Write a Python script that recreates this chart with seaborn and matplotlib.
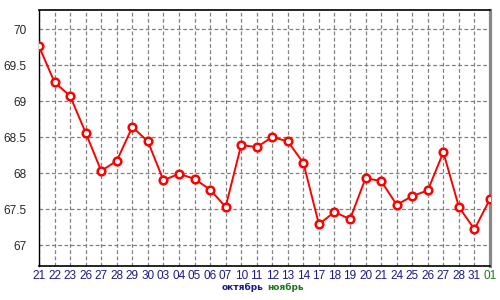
import matplotlib
matplotlib.use('Agg')
import matplotlib.pyplot as plt
import seaborn as sns
import pandas as pd

days = ['21', '22', '23', '26', '27', '28', '29', '30', '03', '04', '05', '06', '07',
        '10', '11', '12', '13', '14', '17', '18', '19', '20', '21', '24', '25', '26',
        '27', '28', '31', '01']
values = [69.76, 69.26, 69.07, 68.56, 68.03, 68.17, 68.64, 68.44, 67.90, 67.99,
          67.92, 67.77, 67.53, 68.39, 68.36, 68.50, 68.44, 68.14, 67.29, 67.46,
          67.36, 67.93, 67.89, 67.56, 67.68, 67.76, 68.29, 67.53, 67.22, 67.64]
months = ['октябрь', 'ноябрь']
month_colors = ['#1a1a8c', '#1a7a1a']
y_ticks = [67, 67.5, 68, 68.5, 69, 69.5, 70]
y_labels = ['67', '67.5', '68', '68.5', '69', '69.5', '70']

df = pd.DataFrame({'pos': range(len(values)), 'value': values})

sns.set_style('white')
plt.rcParams['font.family'] = ['Liberation Sans', 'DejaVu Sans']

fig = plt.figure(figsize=(5, 3), dpi=100)
ax = fig.add_axes([0.078, 0.1133, 0.902, 0.8534])

sns.lineplot(data=df, x='pos', y='value', ax=ax, color='#ff0000', linewidth=1.4,
             marker='o', markersize=5.5, markerfacecolor='white',
             markeredgecolor='#ff0000', markeredgewidth=1.8, zorder=5)

ax.set_xlim(0, len(values) - 1)
ax.set_ylim(66.71, 70.264)
ax.set_xticks(range(len(days)))
ax.set_xticklabels(days)
ax.set_yticks(y_ticks)
ax.set_yticklabels(y_labels)
ax.set_xlabel('')
ax.set_ylabel('')

ax.grid(True, color='#808080', linestyle=(0, (3, 2)), linewidth=0.9)
ax.tick_params(axis='both', length=0, labelsize=8.5, pad=3)
ax.tick_params(axis='y', pad=9)
for lbl in ax.get_xticklabels():
    lbl.set_color('#1a1a8c')
ax.get_xticklabels()[-1].set_color('#1a7a1a')

ax.spines['top'].set_color('black')
ax.spines['top'].set_linewidth(1.2)
ax.spines['bottom'].set_color('black')
ax.spines['bottom'].set_linewidth(1.2)
ax.spines['left'].set_color('black')
ax.spines['left'].set_linestyle((0, (1, 1)))
ax.spines['left'].set_linewidth(1)
ax.spines['right'].set_color('#888888')
ax.spines['right'].set_linewidth(2.3)

fig.text(0.485, 0.043, months[0], color=month_colors[0], fontsize=6.5,
         fontweight='bold', family='DejaVu Sans', ha='center', va='center')
fig.text(0.572, 0.043, months[1], color=month_colors[1], fontsize=6.5,
         fontweight='bold', family='DejaVu Sans', ha='center', va='center')

fig.savefig('out.png', dpi=100)
